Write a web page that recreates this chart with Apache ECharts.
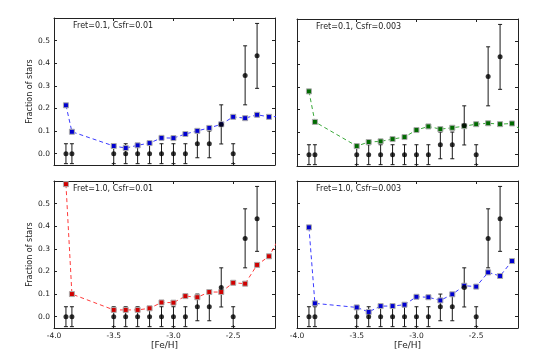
<!DOCTYPE html>
<html>
<head>
<meta charset="utf-8">
<script src="https://cdn.jsdelivr.net/npm/echarts@6/dist/echarts.min.js"></script>
<style>
  html, body { margin: 0; padding: 0; background: #fff; }
  #chart { width: 545px; height: 364px; }
</style>
</head>
<body>
<div id="chart"></div>
<script>
// observed fractions (black points, same in every panel)
const obsFeh = [-3.9, -3.85, -3.5, -3.4, -3.3, -3.2, -3.1, -3.0, -2.9, -2.8, -2.7, -2.6, -2.5, -2.4, -2.3];
const obsFrac = [0, 0, 0, 0, 0, 0, 0, 0, 0, 0.044, 0.044, 0.129, 0, 0.346, 0.433];
const obsLow = [-0.044, -0.044, -0.044, -0.044, -0.044, -0.044, -0.044, -0.044, -0.044, -0.018, -0.018, 0.043, -0.044, 0.216, 0.289];
const obsHigh = [0.044, 0.044, 0.044, 0.044, 0.044, 0.044, 0.044, 0.044, 0.044, 0.100, 0.100, 0.216, 0.044, 0.477, 0.576];

// model curves
const modelFeh = [-3.9, -3.85, -3.5, -3.4, -3.3, -3.2, -3.1, -3.0, -2.9, -2.8, -2.7, -2.6, -2.5, -2.4, -2.3, -2.2, -2.1];
const fret01csfr001 = [0.214, 0.097, 0.034, 0.025, 0.037, 0.047, 0.070, 0.069, 0.087, 0.101, 0.114, 0.130, 0.163, 0.157, 0.172, 0.163, 0.165];
const fret01csfr0003 = [0.280, 0.145, 0.038, 0.056, 0.059, 0.069, 0.078, 0.109, 0.125, 0.113, 0.119, 0.126, 0.135, 0.139, 0.135, 0.138, 0.100];
const fret10csfr001 = [0.586, 0.100, 0.030, 0.030, 0.030, 0.037, 0.063, 0.062, 0.091, 0.086, 0.109, 0.109, 0.150, 0.146, 0.229, 0.267, 0.360];
const fret10csfr0003 = [0.395, 0.059, 0.041, 0.021, 0.047, 0.047, 0.053, 0.088, 0.086, 0.072, 0.099, 0.137, 0.133, 0.196, 0.180, 0.246, null];

const xTicks = [-4.0, -3.5, -3.0, -2.5];
const yTicks = [0.0, 0.1, 0.2, 0.3, 0.4, 0.5];

const panels = [
  { title: 'Fret=0.1, Csfr=0.01', data: fret01csfr001, line: '#3b3bff', fill: '#0000d0', left: 54, top: 18, yLab: true, xLab: false },
  { title: 'Fret=0.1, Csfr=0.003', data: fret01csfr0003, line: '#3aa83a', fill: '#006a00', left: 297, top: 19, yLab: false, xLab: false },
  { title: 'Fret=1.0, Csfr=0.01', data: fret10csfr001, line: '#ff3b3b', fill: '#d00000', left: 54, top: 181, yLab: true, xLab: true },
  { title: 'Fret=1.0, Csfr=0.003', data: fret10csfr0003, line: '#3b3bff', fill: '#0000d0', left: 297, top: 181, yLab: false, xLab: true }
];

const font = 'DejaVu Sans';
const frame = { show: true, onZero: false, lineStyle: { color: '#222', width: 1 } };
const tickStyle = { show: true, inside: true, length: 3, lineStyle: { color: '#222' } };

const grid = [], xAxis = [], yAxis = [], series = [], graphic = [];

panels.forEach((p, i) => {
  grid.push({ left: p.left, top: p.top, width: 221, height: 147 });
  const xBase = { type: 'value', gridIndex: i, min: -4.0, max: -2.15, splitLine: { show: false }, axisLine: frame };
  xAxis.push(Object.assign({}, xBase, {
    position: 'bottom',
    axisTick: Object.assign({ customValues: xTicks }, tickStyle),
    axisLabel: { show: p.xLab, customValues: xTicks, fontFamily: font, fontSize: 7.5, color: '#222', margin: 4,
      formatter: v => v.toFixed(1) },
    name: p.xLab ? '[Fe/H]' : '', nameLocation: 'middle', nameGap: 13,
    nameTextStyle: { fontFamily: font, fontSize: 9, color: '#222' }
  }));
  xAxis.push(Object.assign({}, xBase, {
    position: 'top',
    axisTick: Object.assign({ customValues: xTicks }, tickStyle),
    axisLabel: { show: false }
  }));
  const yBase = { type: 'value', gridIndex: i, min: -0.05, max: 0.6, splitLine: { show: false }, axisLine: frame };
  yAxis.push(Object.assign({}, yBase, {
    position: 'left',
    axisTick: Object.assign({ customValues: yTicks }, tickStyle),
    axisLabel: { show: p.yLab, customValues: yTicks, fontFamily: font, fontSize: 7.5, color: '#222', margin: 4,
      formatter: v => v.toFixed(1) },
    name: p.yLab ? 'Fraction of stars' : '', nameLocation: 'middle', nameGap: 14,
    nameTextStyle: { fontFamily: font, fontSize: 8, color: '#222' }
  }));
  yAxis.push(Object.assign({}, yBase, {
    position: 'right',
    axisTick: Object.assign({ customValues: yTicks }, tickStyle),
    axisLabel: { show: false }
  }));

  // error bars
  series.push({
    type: 'custom', xAxisIndex: 2 * i, yAxisIndex: 2 * i, clip: true, z: 2,
    data: obsFeh.map((x, k) => [x, obsLow[k], obsHigh[k]]),
    encode: { x: 0, y: [1, 2] },
    renderItem: (params, api) => {
      const x = api.value(0);
      const lo = api.coord([x, api.value(1)]);
      const hi = api.coord([x, api.value(2)]);
      const st = { stroke: '#1a1a1a', lineWidth: 1 };
      return {
        type: 'group',
        children: [
          { type: 'line', shape: { x1: lo[0], y1: lo[1], x2: hi[0], y2: hi[1] }, style: st },
          { type: 'line', shape: { x1: lo[0] - 2, y1: lo[1], x2: lo[0] + 2, y2: lo[1] }, style: st },
          { type: 'line', shape: { x1: hi[0] - 2, y1: hi[1], x2: hi[0] + 2, y2: hi[1] }, style: st }
        ]
      };
    }
  });

  // model curve
  series.push({
    type: 'line', xAxisIndex: 2 * i, yAxisIndex: 2 * i, z: 3, clip: true,
    data: modelFeh.map((x, k) => [x, p.data[k]]),
    connectNulls: false,
    symbol: 'rect', symbolSize: 5, showAllSymbol: true,
    lineStyle: { color: p.line, width: 1, type: [4, 3] },
    itemStyle: { color: p.fill, borderColor: '#aaaaaa', borderWidth: 1 },
    animation: false
  });

  // observed points
  series.push({
    type: 'scatter', xAxisIndex: 2 * i, yAxisIndex: 2 * i, z: 4,
    data: obsFeh.map((x, k) => [x, obsFrac[k]]),
    symbol: 'circle', symbolSize: 5,
    itemStyle: { color: '#000' }
  });

  graphic.push({
    type: 'text', left: p.left + 19, top: p.top + 4,
    style: { text: p.title, fontFamily: font, fontSize: 8, fill: '#222' }
  });
});

const chart = echarts.init(document.getElementById('chart'), null, { renderer: 'canvas' });
chart.setOption({
  backgroundColor: '#fff',
  animation: false,
  grid, xAxis, yAxis, series, graphic
});
</script>
</body>
</html>
